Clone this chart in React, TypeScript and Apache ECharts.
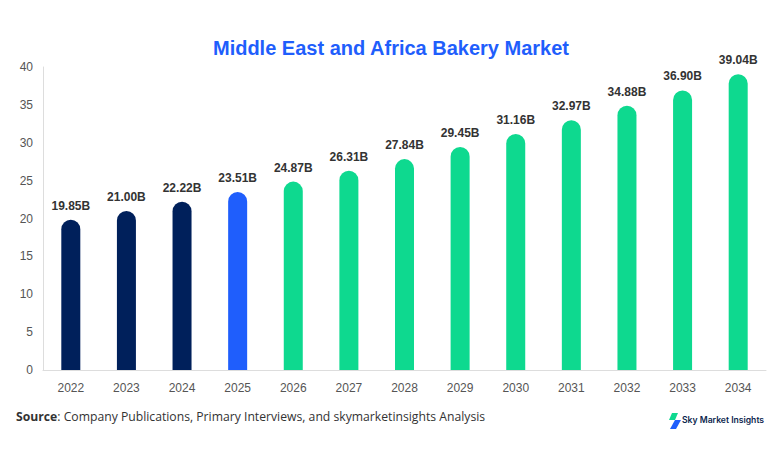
import { useEffect, useRef } from "react";
import * as echarts from "echarts";

const years = ["2022", "2023", "2024", "2025", "2026", "2027", "2028", "2029", "2030", "2031", "2032", "2033", "2034"];
const marketSize = [19.85, 21.0, 22.22, 23.51, 24.87, 26.31, 27.84, 29.45, 31.16, 32.97, 34.88, 36.9, 39.04];
// 0-2 historic, 3 base year, rest forecast
const barColors = [
  "#00205b", "#00205b", "#00205b",
  "#1f5efc",
  "#0ed98f", "#0ed98f", "#0ed98f", "#0ed98f", "#0ed98f", "#0ed98f", "#0ed98f", "#0ed98f", "#0ed98f",
];

export default function App() {
  const chartRef = useRef<HTMLDivElement>(null);

  useEffect(() => {
    if (!chartRef.current) return;
    const chart = echarts.init(chartRef.current, null, { renderer: "svg" });

    const option: echarts.EChartsOption = {
      animation: false,
      backgroundColor: "#ffffff",
      title: {
        text: "Middle East and Africa Bakery Market",
        left: "center",
        top: 33,
        textStyle: {
          fontFamily: "Liberation Sans, Arial, sans-serif",
          fontSize: 20,
          fontWeight: "bold",
          color: "#1f5efc",
        },
      },
      grid: { left: 43, right: 16, top: 67, bottom: 84 },
      xAxis: {
        type: "category",
        data: years,
        axisLine: { lineStyle: { color: "#dddddd" } },
        axisTick: { show: false },
        axisLabel: {
          color: "#555555",
          fontSize: 12,
          margin: 12,
          fontFamily: "Liberation Sans, Arial, sans-serif",
        },
      },
      yAxis: {
        type: "value",
        min: 0,
        max: 40,
        interval: 5,
        axisLine: { show: true, lineStyle: { color: "#dddddd" } },
        axisTick: { show: false },
        splitLine: { show: false },
        axisLabel: {
          color: "#555555",
          fontSize: 12,
          margin: 10,
          fontFamily: "Liberation Sans, Arial, sans-serif",
        },
      },
      series: [
        {
          type: "bar",
          barWidth: 19,
          data: marketSize.map((v, i) => ({
            value: v,
            itemStyle: { color: barColors[i], borderRadius: [10, 10, 0, 0] },
          })),
          label: {
            show: true,
            position: "top",
            distance: 8,
            formatter: (p: any) => p.value.toFixed(2) + "B",
            color: "#333333",
            fontSize: 12,
            fontWeight: "bold",
            fontFamily: "Liberation Sans, Arial, sans-serif",
          },
        },
      ],
      graphic: [
        {
          type: "text",
          left: 16,
          top: 410,
          style: {
            text: "{b|Source}: Company Publications, Primary Interviews, and skymarketinsights Analysis",
            fontFamily: "Open Sans, sans-serif",
            fontSize: 12.2,
            fill: "#333333",
            rich: {
              b: { fontWeight: "bold", fontFamily: "Open Sans, sans-serif", fontSize: 12.2, fill: "#333333" },
            },
          } as any,
        },
        {
          type: "polygon",
          shape: { points: [[672, 413], [678, 413], [675, 420], [669, 420]] },
          style: { fill: "#0ed98f" },
        },
        {
          type: "polygon",
          shape: { points: [[675, 420], [681, 420], [676, 429], [670, 429]] },
          style: { fill: "#1f5efc" },
        },
        {
          type: "text",
          left: 682,
          top: 415,
          style: {
            text: "Sky Market Insights",
            fontFamily: "Inter, sans-serif",
            fontSize: 8.6,
            fontWeight: 600,
            fill: "#0b1f4d",
          },
        },
      ],
    };

    chart.setOption(option);
    return () => {
      chart.dispose();
    };
  }, []);

  return <div ref={chartRef} style={{ width: 782, height: 454, position: "absolute", left: 0, top: 0 }} />;
}
